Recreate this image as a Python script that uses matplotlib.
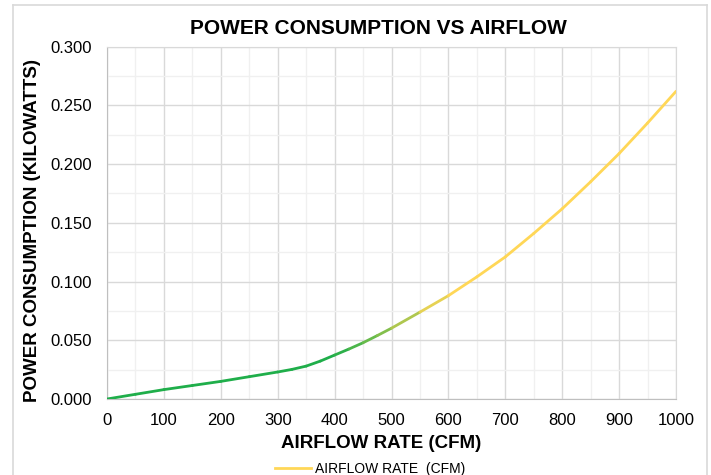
import numpy as np
import matplotlib
matplotlib.use("Agg")
import matplotlib.pyplot as plt
from matplotlib.collections import LineCollection
from matplotlib.colors import LinearSegmentedColormap
from matplotlib.lines import Line2D
from matplotlib.ticker import MultipleLocator

# values
airflow = [0, 50, 100, 150, 200, 250, 300, 325, 350, 375, 400, 425, 450, 475, 500,
           550, 600, 650, 700, 750, 800, 850, 900, 950, 1000]
power = [0.000, 0.004, 0.008, 0.0115, 0.015, 0.019, 0.023, 0.0252, 0.028, 0.0323, 0.0374,
         0.0425, 0.0479, 0.0540, 0.0603,
         0.074, 0.088, 0.104, 0.121, 0.141, 0.162, 0.185, 0.209, 0.235, 0.262]

title = "POWER CONSUMPTION VS AIRFLOW"
x_label = "AIRFLOW RATE (CFM)"
y_label = "POWER CONSUMPTION (KILOWATTS)"
series_name = "AIRFLOW RATE  (CFM)"

plt.rcParams['font.family'] = ['Liberation Sans', 'DejaVu Sans']

GREEN = "#1fae4a"
YELLOW = "#ffd757"
cmap = LinearSegmentedColormap.from_list(
    "grad", [(0.0, GREEN), (0.40, GREEN), (0.50, "#93c24c"), (0.60, YELLOW), (1.0, YELLOW)])

fig = plt.figure(figsize=(7.11, 4.75), dpi=100)
ax = fig.add_axes([107 / 711, 76 / 475, 569 / 711, 352.3 / 475])

x = np.array(airflow, dtype=float)
y = np.array(power, dtype=float)
pts = np.column_stack([x, y]).reshape(-1, 1, 2)
segs = np.concatenate([pts[:-1], pts[1:]], axis=1)
mids = (x[:-1] + x[1:]) / 2 / 1000
lc = LineCollection(segs, colors=cmap(mids), linewidths=2.0, capstyle='round', joinstyle='round', zorder=3)
ax.add_collection(lc)

ax.set_xlim(0, 1000)
ax.set_ylim(0, 0.3)
ax.xaxis.set_major_locator(MultipleLocator(100))
ax.xaxis.set_minor_locator(MultipleLocator(50))
ax.yaxis.set_major_locator(MultipleLocator(0.05))
ax.yaxis.set_minor_locator(MultipleLocator(0.025))
ax.yaxis.set_major_formatter(matplotlib.ticker.FormatStrFormatter('%.3f'))

ax.grid(which='major', color='#d9d9d9', linewidth=1.0)
ax.grid(which='minor', color='#f0f0f0', linewidth=1.0)
ax.set_axisbelow(True)
ax.tick_params(which='both', length=0)
ax.tick_params(axis='x', labelsize=12, pad=10, colors='#000000')
ax.tick_params(axis='y', labelsize=12, pad=11, colors='#000000')
for side in ['top', 'right']:
    ax.spines[side].set_color('#d9d9d9')
for side in ['left', 'bottom']:
    ax.spines[side].set_color('#bfbfbf')

fig.text(378 / 711, 1 - 28 / 475, title, ha='center', va='center', fontsize=15, fontweight='bold')
fig.text(381 / 711, 1 - 443 / 475, x_label, ha='center', va='center', fontsize=13.5, fontweight='bold')
fig.text(33 / 711, 1 - 231 / 475, y_label, ha='center', va='center', rotation=90,
         fontsize=13.5, fontweight='bold')

handle = Line2D([], [], color=YELLOW, linewidth=2.0)
fig.legend([handle], [series_name], loc='center', bbox_to_anchor=(370 / 711, 1 - 469 / 475),
           frameon=False, fontsize=10, handlelength=2.6, handletextpad=0.3,
           borderpad=0, borderaxespad=0)

# outer chart frame
frame = [((13, 480), (13, 5)), ((13, 5), (707, 5)), ((707, 5), (707, 480))]
for (x0, y0), (x1, y1) in frame:
    fig.add_artist(Line2D([x0 / 711, x1 / 711], [1 - y0 / 475, 1 - y1 / 475],
                          color='#d9d9d9', linewidth=1.2, transform=fig.transFigure))

fig.savefig("out.png", dpi=100)
